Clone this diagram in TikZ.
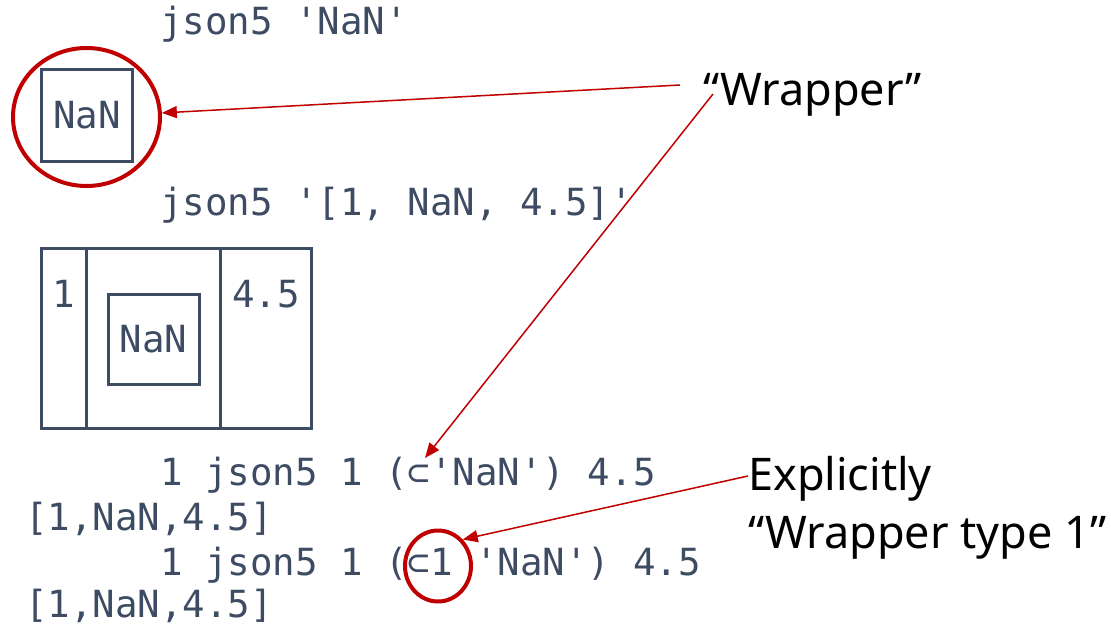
\documentclass[tikz,border=0pt]{standalone}
\usepackage{fontspec}
\newfontfamily\codefont{DejaVu Sans Mono}
\newfontfamily\labelfont{Noto Sans}
\usetikzlibrary{arrows.meta,shapes.geometric}
\definecolor{codeink}{RGB}{61,75,99}
\definecolor{markred}{RGB}{192,0,0}
\tikzset{
  code/.style={text=codeink, inner sep=0pt, font=\codefont\fontsize{37.4}{45}\selectfont},
  box/.style={draw=codeink, line width=3pt},
  ring/.style={draw=markred, ellipse, inner sep=0pt, line width=4pt},
  callout/.style={draw=markred, line width=1.5pt, -{Triangle[length=15pt,width=12pt]}},
  note/.style={text=black, inner sep=0pt, align=left, font=\labelfont\fontsize{45}{58}\selectfont}
}
\begin{document}
\begin{tikzpicture}[x=1pt, y=-1pt]
    \useasboundingbox (0,0) rectangle (1111,626);

    \node[code, anchor=base west] (cmdone) at (160,35) {json5 'NaN'};
    \draw[box] (41,70) rectangle (132,161);
    \node[code, anchor=base] (nanone) at (87,128) {NaN};
    \node[ring, minimum width=147pt, minimum height=138pt] (ringone) at (86.5,117) {};

    \node[code, anchor=base west] (cmdtwo) at (160,215) {json5 '[1, NaN, 4.5]'};
    \draw[box] (41,248) rectangle (311,428);
    \draw[box] (86,248) -- (86,428);
    \draw[box] (220.5,248) -- (220.5,428);
    \draw[box] (108,294) rectangle (199,384);
    \node[code, anchor=base] (one) at (64,307) {1};
    \node[code, anchor=base] (nantwo) at (153.5,352) {NaN};
    \node[code, anchor=base] (four) at (266,307) {4.5};

    \node[code, anchor=base west] (linea) at (160,485) {1 json5 1 (⊂'NaN') 4.5};
    \node[code, anchor=base west] (lineb) at (25,530) {[1,NaN,4.5]};
    \node[code, anchor=base west] (linec) at (160,575) {1 json5 1 (⊂1 'NaN') 4.5};
    \node[code, anchor=base west] (lined) at (25,617) {[1,NaN,4.5]};
    \node[ring, minimum width=66pt, minimum height=71pt] (ringtwo) at (438,566) {};

    \node[note, anchor=base west] (wrapper) at (703,105) {“Wrapper”};
    \node[note, anchor=base west] (explicit) at (748,548) {Explicitly\\“Wrapper type 1”};

    \coordinate (fromone) at (680,85);
    \coordinate (fromtwo) at (713,94);
    \coordinate (enclose) at (425,458);
    \coordinate (fromthree) at (748,476);
    \draw[callout] (fromone) -- (ringone);
    \draw[callout] (fromtwo) -- (enclose);
    \draw[callout] (fromthree) -- (ringtwo.north east);
\end{tikzpicture}
\end{document}
